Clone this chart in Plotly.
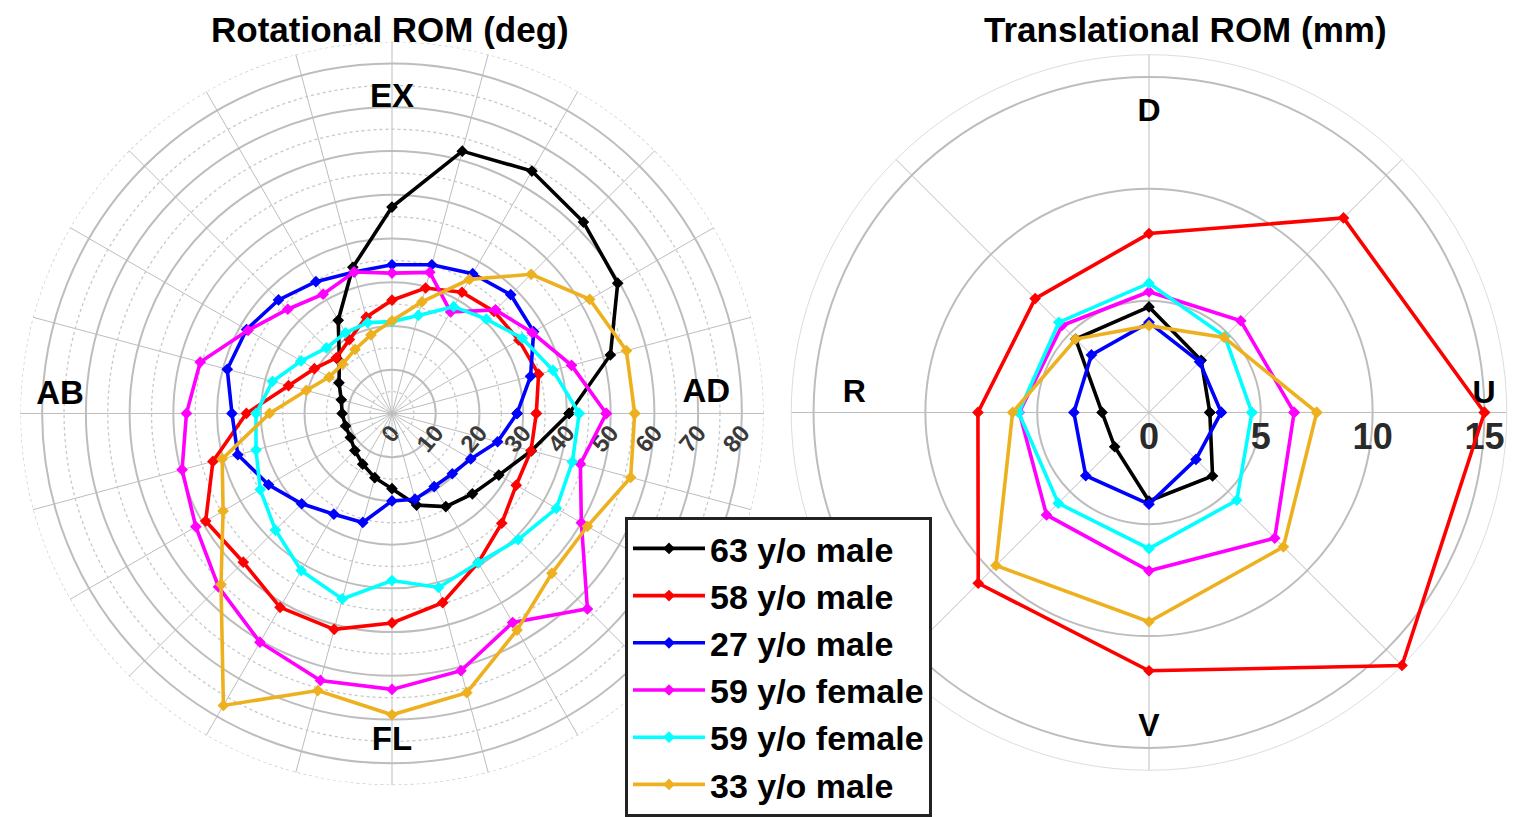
import plotly.graph_objects as go

# ---------------- data ----------------
series_names = ["63 y/o male", "58 y/o male", "27 y/o male",
                "59 y/o female", "59 y/o female", "33 y/o male"]
series_colors = ["#000000", "#FF0000", "#0000FF", "#FF00FF", "#00FFFF", "#EDB120"]

# Rotational ROM (deg), angle measured counter-clockwise from AD (0) ; EX=90, AB=180, FL=270
rot_theta = list(range(0, 360, 15))
rot_63m = [40.5, 51.7, 59.6, 61.9, 64.0, 62.1, 47.2, 34.6, 24.6, 17.0, 14.0, 12.0,
           11.4, 11.0, 11.0, 12.0, 13.4, 15.2, 17.2, 21.7, 24.6, 26.0, 28.2, 33.0]
rot_58m = [33.0, 34.7, 33.5, 33.0, 32.0, 29.7, 25.9, 22.8, 19.5, 18.0, 20.5, 24.5,
           33.3, 42.4, 49.2, 48.1, 51.2, 51.1, 47.9, 44.8, 39.4, 35.5, 32.8, 32.9]
rot_27m = [28.6, 32.8, 37.4, 38.4, 36.9, 35.2, 34.0, 33.5, 34.8, 36.7, 38.4, 39.0,
           36.6, 36.5, 32.6, 29.2, 26.6, 25.8, 20.0, 20.3, 19.3, 19.5, 20.8, 25.0]
rot_59f_a = [49.0, 42.5, 37.0, 33.5, 26.8, 33.4, 32.1, 33.5, 31.5, 33.7, 38.0, 45.4,
             47.0, 49.7, 51.8, 56.1, 60.4, 63.2, 63.1, 60.9, 55.2, 63.2, 50.0, 44.6]
rot_59f_b = [42.8, 38.1, 34.4, 30.5, 28.2, 23.2, 21.0, 21.5, 21.3, 21.2, 24.0, 28.3,
             31.1, 32.2, 34.8, 37.7, 41.5, 43.9, 38.2, 41.2, 39.4, 40.8, 43.4, 42.7]
rot_33m = [55.5, 55.5, 52.2, 45.0, 35.4, 26.4, 21.2, 18.6, 16.9, 16.0, 16.6, 20.3,
           28.0, 40.2, 44.6, 55.3, 77.1, 65.6, 68.9, 66.1, 57.2, 51.7, 51.6, 56.5]
rot_ticks = [0, 10, 20, 30, 40, 50, 60, 70, 80]
rot_minor = [5, 15, 25, 35, 45, 55, 65, 75, 85]
rot_labels = ["EX", "AB", "AD", "FL"]
rot_label_theta = [90, 177, 3.5, 270]
rot_label_r = [72, 76, 72, 75]

# Translational ROM (mm), U=0, D=90, R=180, V=270
tr_theta = [0, 45, 90, 135, 180, 225, 270, 315]
tr_63m = [2.72, 3.3, 4.72, 4.64, 2.1, 2.17, 3.96, 4.02]
tr_58m = [15.0, 12.3, 8.0, 7.2, 7.65, 10.8, 11.55, 16.0]
tr_27m = [3.23, 3.2, 4.03, 3.64, 3.36, 4.0, 4.1, 2.97]
tr_59f_a = [6.49, 5.8, 5.4, 5.5, 5.8, 6.48, 7.08, 7.95]
tr_59f_b = [4.6, 4.8, 5.78, 5.7, 5.83, 5.74, 6.09, 5.55]
tr_33m = [7.5, 4.75, 3.88, 4.64, 6.1, 9.68, 9.36, 8.5]
tr_ticks = [0, 5, 10, 15]
tr_labels = ["U", "D", "R", "V"]
tr_label_theta = [3, 90, 176.5, 270]
tr_label_r = [15.0, 13.4, 13.2, 14.1]

rot_series = [rot_63m, rot_58m, rot_27m, rot_59f_a, rot_59f_b, rot_33m]
tr_series = [tr_63m, tr_58m, tr_27m, tr_59f_a, tr_59f_b, tr_33m]

GRID = "#bdbdbd"
FONT = "Liberation Sans, Arial, Helvetica, sans-serif"

fig = go.Figure()

# dotted minor circles (left)
circ_theta = list(range(0, 361, 2))
for rr in rot_minor:
    fig.add_trace(go.Scatterpolar(r=[rr] * len(circ_theta), theta=circ_theta, mode="lines",
                                  line=dict(color="#c8c8c8", width=1.3, dash="dot"),
                                  subplot="polar", showlegend=False, hoverinfo="skip"))


def closed(v):
    return list(v) + [v[0]]


for name, col, vals in zip(series_names, series_colors, rot_series):
    fig.add_trace(go.Scatterpolar(r=closed(vals), theta=closed(rot_theta), mode="lines+markers",
                                  name=name, line=dict(color=col, width=3.6),
                                  marker=dict(color=col, size=9, symbol="diamond"),
                                  subplot="polar", showlegend=True))

for name, col, vals in zip(series_names, series_colors, tr_series):
    fig.add_trace(go.Scatterpolar(r=closed(vals), theta=closed(tr_theta), mode="lines+markers",
                                  name=name, line=dict(color=col, width=3.6),
                                  marker=dict(color=col, size=9, symbol="diamond"),
                                  subplot="polar2", showlegend=False))

# direction labels
fig.add_trace(go.Scatterpolar(r=rot_label_r, theta=rot_label_theta, mode="text", text=rot_labels,
                              textfont=dict(size=33, color="black", family=FONT, weight="bold"),
                              cliponaxis=False, subplot="polar", showlegend=False, hoverinfo="skip"))
fig.add_trace(go.Scatterpolar(r=tr_label_r, theta=tr_label_theta, mode="text", text=tr_labels,
                              textfont=dict(size=32, color="black", family=FONT, weight="bold"),
                              cliponaxis=False, subplot="polar2", showlegend=False, hoverinfo="skip"))

W, H = 1533, 817
lc, lr = (392, 416), 374
rc, rr_ = (1149, 415), 360
fig.update_layout(
    width=W, height=H, margin=dict(l=0, r=0, t=0, b=0),
    paper_bgcolor="white", plot_bgcolor="white",
    font=dict(family=FONT, color="black"),
    polar=dict(
        domain=dict(x=[(lc[0] - lr) / W, (lc[0] + lr) / W],
                    y=[(H - lc[1] - lr) / H, (H - lc[1] + lr) / H]),
        bgcolor="white",
        radialaxis=dict(range=[0, 85], tickvals=rot_ticks, ticks="", showline=False,
                        gridcolor=GRID, gridwidth=1.8, angle=0, tickangle=-50,
                        layer="below traces",
                        tickfont=dict(size=24, color="#3a3a3a", family=FONT, weight="bold")),
        angularaxis=dict(tickvals=rot_theta, showticklabels=False, ticks="", gridcolor=GRID,
                         gridwidth=1.3, showline=False, direction="counterclockwise", rotation=0,
                         layer="below traces"),
    ),
    polar2=dict(
        domain=dict(x=[(rc[0] - rr_) / W, (rc[0] + rr_) / W],
                    y=[(H - rc[1] - rr_) / H, (H - rc[1] + rr_) / H]),
        bgcolor="white",
        radialaxis=dict(range=[0, 16], tickvals=tr_ticks, ticks="", showline=False,
                        gridcolor=GRID, gridwidth=1.8, angle=0, tickangle=0,
                        layer="below traces",
                        tickfont=dict(size=36, color="#2a2a2a", family=FONT, weight="bold")),
        angularaxis=dict(tickvals=tr_theta, showticklabels=False, ticks="", gridcolor=GRID,
                         gridwidth=1.3, showline=True, linecolor="#dddddd", linewidth=1,
                         direction="counterclockwise", rotation=0, layer="below traces"),
    ),
    legend=dict(x=625 / W, y=1 - 520 / H, xanchor="left", yanchor="top",
                bordercolor="#222222", borderwidth=3, bgcolor="white",
                font=dict(size=34, family=FONT, color="black", weight="bold"),
                itemwidth=72, tracegroupgap=0),
    annotations=[
        dict(text="Rotational ROM (deg)", x=390 / W, y=1 - 30 / H, xref="paper", yref="paper",
             xanchor="center", yanchor="middle", showarrow=False,
             font=dict(size=35, family=FONT, color="black", weight="bold")),
        dict(text="Translational ROM (mm)", x=1185 / W, y=1 - 30 / H, xref="paper", yref="paper",
             xanchor="center", yanchor="middle", showarrow=False,
             font=dict(size=35, family=FONT, color="black", weight="bold")),
    ],
)

fig.write_html("out.html", config={"displayModeBar": False},
               post_script="document.body.style.margin='0px';")
